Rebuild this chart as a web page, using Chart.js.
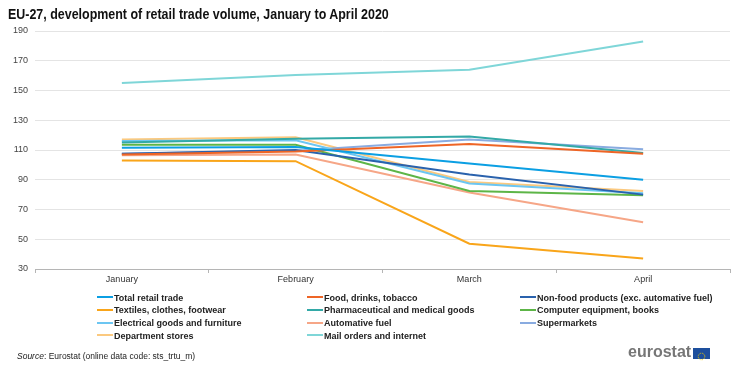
<!DOCTYPE html>
<html>
<head>
<meta charset="utf-8">
<script src="https://cdn.jsdelivr.net/npm/chart.js@4.4.1/dist/chart.umd.min.js"></script>
<style>
  html, body { margin: 0; padding: 0; background: #fff; }
  #wrap { position: relative; width: 740px; height: 382px; overflow: hidden; font-family: "Liberation Sans", sans-serif; }
  #chart { position: absolute; left: 0; top: 0; }
  #title { position: absolute; left: 8px; top: 5px; font-size: 15px; font-weight: bold; color: #111; white-space: nowrap; transform: scaleX(0.83); transform-origin: left top; }
  #legend { position: absolute; left: 0; top: 291.5px; width: 740px; }
  .item { position: absolute; font-size: 9px; font-weight: bold; color: #222; white-space: nowrap; line-height: 12px; }
  .item span.sw { display: inline-block; width: 16px; height: 2px; vertical-align: middle; margin-right: 1px; position: relative; top: -1px; }
  #source { position: absolute; left: 17px; top: 351px; font-size: 8.5px; color: #222; white-space: nowrap; }
  #logo { position: absolute; left: 628px; top: 343px; font-size: 16px; font-weight: bold; color: #767676; white-space: nowrap; }
  #flag { position: absolute; left: 693px; top: 348px; width: 17px; height: 11px; background: #1d4f9d; }
</style>
</head>
<body>
<div id="wrap">
  <canvas id="chart" width="740" height="382"></canvas>
  <div id="title">EU-27, development of retail trade volume, January to April 2020</div>
  <div id="legend"></div>
  <div id="source"><i>Source</i>: Eurostat (online data code: sts_trtu_m)</div>
  <div id="logo">eurostat</div>
  <div id="flag"><svg width="17" height="11" viewBox="0 0 17 11"><circle cx="8.5" cy="5.5" r="3.3" fill="none" stroke="#f5d000" stroke-width="1" stroke-dasharray="0.9 0.83"/></svg></div>
</div>
<script>
// months on the x axis
const months = ['January', 'February', 'March', 'April'];

// index values
const totalRetail   = [111.5, 112, 101, 90];
const foodDrinks    = [107, 109, 114, 107.5];
const nonFood       = [107.5, 110, 93.5, 80];
const textiles      = [103, 102.5, 47, 37];
const pharma        = [115, 117.5, 119, 108];
const computer      = [113.5, 113.5, 82.5, 79.5];
const electrical    = [116, 116.5, 87.5, 81];
const fuel          = [106.5, 107, 81.5, 61.5];
const supermarkets  = [107.5, 109.5, 117, 110.5];
const department    = [117, 118.5, 88.5, 82.5];
const mailOrders    = [155, 160.5, 164, 183];

const yMin = 30, yMax = 190, yStep = 20;

const series = [
    { label: 'Total retail trade', data: totalRetail, color: '#0b9fe3' },
    { label: 'Food, drinks, tobacco', data: foodDrinks, color: '#ee6526' },
    { label: 'Non-food products (exc. automative fuel)', data: nonFood, color: '#2a62ad' },
    { label: 'Textiles, clothes, footwear', data: textiles, color: '#f9a51a' },
    { label: 'Pharmaceutical and medical goods', data: pharma, color: '#33a9a7' },
    { label: 'Computer equipment, books', data: computer, color: '#5db547' },
    { label: 'Electrical goods and furniture', data: electrical, color: '#6cc6f2' },
    { label: 'Automative fuel', data: fuel, color: '#f6a687' },
    { label: 'Supermarkets', data: supermarkets, color: '#89abe0' },
    { label: 'Department stores', data: department, color: '#fbc97f' },
    { label: 'Mail orders and internet', data: mailOrders, color: '#7fd6d8' }
];

// html legend, three columns
const legend = document.getElementById('legend');
const colX = [97, 307, 520];
series.forEach(function(s, i) {
    const el = document.createElement('div');
    el.className = 'item';
    el.style.left = colX[i % 3] + 'px';
    el.style.top = (Math.floor(i / 3) * 12.7) + 'px';
    el.innerHTML = '<span class="sw" style="background:' + s.color + '"></span>' + s.label;
    legend.appendChild(el);
});

const ctx = document.getElementById('chart').getContext('2d');
new Chart(ctx, {
    type: 'line',
    data: {
        labels: months,
        datasets: series.map(function(s) {
            return {
                label: s.label,
                data: s.data,
                borderColor: s.color,
                backgroundColor: s.color,
                borderWidth: 2,
                pointRadius: 0,
                tension: 0,
                fill: false
            };
        })
    },
    options: {
        responsive: false,
        animation: false,
        layout: { padding: { left: 0, top: 31, right: 10, bottom: 93 } },
        plugins: {
            legend: { display: false },
            tooltip: { enabled: false }
        },
        scales: {
            x: {
                offset: true,
                afterFit: function(scale) { scale.height = 20; },
                grid: { display: true, drawOnChartArea: false, drawTicks: true, tickLength: 4, color: '#b5b5b5', offset: true },
                border: { display: true, color: '#b5b5b5', width: 1 },
                ticks: { color: '#333', font: { family: 'Liberation Sans', size: 9 }, padding: 1, maxRotation: 0 }
            },
            y: {
                min: yMin,
                max: yMax,
                afterFit: function(scale) { scale.width = 35; },
                grid: { color: '#e4e4e4', drawTicks: false },
                border: { display: false },
                ticks: { stepSize: yStep, color: '#444', font: { family: 'Liberation Sans', size: 9 }, padding: 7 }
            }
        }
    }
});
</script>
</body>
</html>
